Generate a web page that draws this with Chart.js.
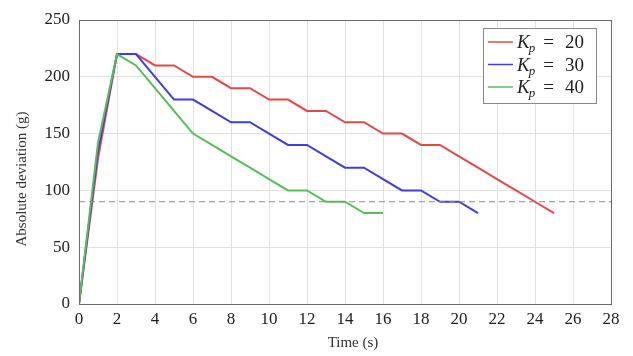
<!DOCTYPE html>
<html>
<head>
<meta charset="utf-8">
<script src="https://cdn.jsdelivr.net/npm/chart.js@4/dist/chart.umd.min.js"></script>
<style>
  html, body { margin: 0; padding: 0; background: #fff; }
  #wrap { width: 633px; height: 356px; }
</style>
</head>
<body>
<div id="wrap"><canvas id="deviationChart" width="633" height="356"></canvas></div>
<script>
// Datos (tiempo en s, desviacion en g)
const timeKp20 = [0, 1, 2, 3, 4, 5, 6, 7, 8, 9, 10, 11, 12, 13, 14, 15, 16, 17, 18, 19, 20, 21, 22, 23, 24, 25];
const devKp20 = [0, 128, 220, 220, 210, 210, 200, 200, 190, 190, 180, 180, 170, 170, 160, 160, 150, 150, 140, 140, 130, 120, 110, 100, 90, 80];

const timeKp30 = [0, 1, 2, 3, 4, 5, 6, 7, 8, 9, 10, 11, 12, 13, 14, 15, 16, 17, 18, 19, 20, 21];
const devKp30 = [0, 135, 220, 220, 200, 180, 180, 170, 160, 160, 150, 140, 140, 130, 120, 120, 110, 100, 100, 90, 90, 80];

const timeKp40 = [0, 1, 2, 3, 4, 5, 6, 7, 8, 9, 10, 11, 12, 13, 14, 15, 16];
const devKp40 = [0, 142, 220, 210, 190, 170, 150, 140, 130, 120, 110, 100, 100, 90, 90, 80, 80];

const thresholdTime = [0, 28];
const thresholdValue = [90, 90];

const legendLabels = ['20', '30', '40'];
const xTicks = [0, 2, 4, 6, 8, 10, 12, 14, 16, 18, 20, 22, 24, 26, 28];
const yTicks = [0, 50, 100, 150, 200, 250];

const xTitle = 'Time (s)';
const yTitle = 'Absolute deviation (g)';

const seriesColors = ['rgb(228, 72, 72)', 'rgb(62, 62, 226)', 'rgb(86, 190, 86)'];
const serif = "'Liberation Serif', 'DejaVu Serif', serif";

function toPoints(xs, ys) {
  return xs.map((x, i) => ({ x: x, y: ys[i] }));
}

// Marco, titulos y leyenda estilo pgfplots
const framePlugin = {
  id: 'frame',
  afterDraw(chart) {
    const ctx = chart.ctx;
    const a = chart.chartArea;
    ctx.save();

    // marco completo del area
    ctx.strokeStyle = '#6a6a6a';
    ctx.lineWidth = 1;
    ctx.strokeRect(Math.round(a.left) + 0.5, Math.round(a.top) + 0.5,
      Math.round(a.right - a.left), Math.round(a.bottom - a.top));

    // titulos de ejes
    ctx.fillStyle = '#333';
    ctx.font = '15px ' + serif;
    ctx.textAlign = 'center';
    ctx.textBaseline = 'middle';
    ctx.fillText(xTitle, (a.left + a.right) / 2 + 8, 343);

    ctx.save();
    ctx.translate(22, (a.top + a.bottom) / 2 + 17);
    ctx.rotate(-Math.PI / 2);
    ctx.fillText(yTitle, 0, 0);
    ctx.restore();

    // leyenda
    const boxRight = a.right - 15;
    const boxW = 113;
    const boxX = boxRight - boxW;
    const boxY = 28.5;
    const boxH = 75;
    ctx.fillStyle = '#fff';
    ctx.fillRect(boxX, boxY, boxW, boxH);
    ctx.strokeStyle = '#8a8a8a';
    ctx.strokeRect(Math.round(boxX) + 0.5, boxY, boxW, boxH);

    legendLabels.forEach((label, i) => {
      const cy = 42 + i * 22.5;
      ctx.strokeStyle = seriesColors[i];
      ctx.lineWidth = 1.5;
      ctx.beginPath();
      ctx.moveTo(boxX + 5, cy);
      ctx.lineTo(boxX + 30, cy);
      ctx.stroke();

      ctx.fillStyle = '#222';
      ctx.textAlign = 'left';
      ctx.textBaseline = 'alphabetic';
      let tx = boxX + 34;
      const base = cy + 6;
      ctx.font = 'italic 19px ' + serif;
      ctx.fillText('K', tx, base);
      tx += ctx.measureText('K').width - 1;
      ctx.font = 'italic 13px ' + serif;
      ctx.fillText('p', tx, base + 4);
      tx += ctx.measureText('p').width + 8;
      ctx.font = '19px ' + serif;
      ctx.fillText('=', tx, base);
      tx += ctx.measureText('=').width + 11;
      ctx.fillText(label, tx, base);
    });

    ctx.restore();
  }
};

function lineDataset(label, xs, ys, color) {
  return {
    label: label,
    data: toPoints(xs, ys),
    borderColor: color,
    backgroundColor: color,
    borderWidth: 2,
    pointRadius: 0,
    tension: 0,
    fill: false
  };
}

const datasets = [
  {
    label: 'threshold',
    data: toPoints(thresholdTime, thresholdValue),
    borderColor: '#8c8c8c',
    borderWidth: 1.2,
    borderDash: [6, 4],
    pointRadius: 0,
    fill: false
  },
  lineDataset('Kp = 40', timeKp40, devKp40, seriesColors[2]),
  lineDataset('Kp = 30', timeKp30, devKp30, seriesColors[1]),
  lineDataset('Kp = 20', timeKp20, devKp20, seriesColors[0])
];

new Chart(document.getElementById('deviationChart'), {
  type: 'line',
  data: { datasets: datasets },
  plugins: [framePlugin],
  options: {
    responsive: false,
    animation: false,
    devicePixelRatio: 1,
    layout: { padding: { top: 20, right: 22, left: 0, bottom: 0 } },
    plugins: {
      legend: { display: false },
      tooltip: { enabled: false }
    },
    scales: {
      x: {
        type: 'linear',
        min: 0,
        max: 28,
        afterBuildTicks: (scale) => { scale.ticks = xTicks.map(v => ({ value: v })); },
        afterFit: (scale) => { scale.height = 52; },
        grid: { color: 'rgb(226, 226, 226)', drawTicks: false },
        border: { display: false },
        ticks: {
          color: '#222',
          padding: 5,
          maxRotation: 0,
          font: { family: serif, size: 17 }
        }
      },
      y: {
        type: 'linear',
        min: 0,
        max: 250,
        afterBuildTicks: (scale) => { scale.ticks = yTicks.map(v => ({ value: v })); },
        afterFit: (scale) => { scale.width = 79; },
        grid: { color: 'rgb(226, 226, 226)', drawTicks: false },
        border: { display: false },
        ticks: {
          color: '#222',
          padding: 9,
          font: { family: serif, size: 17 }
        }
      }
    }
  }
});
</script>
</body>
</html>
